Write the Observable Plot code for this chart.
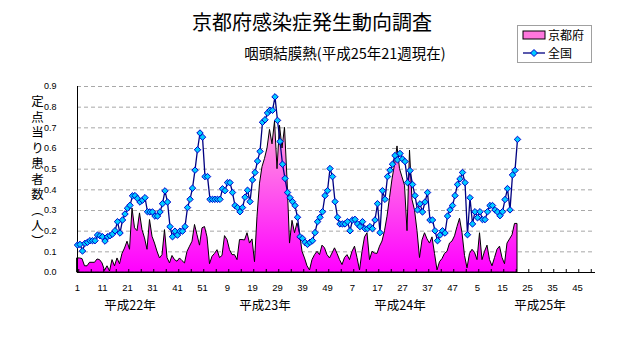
<!DOCTYPE html>
<html><head><meta charset="utf-8">
<script src="https://cdn.jsdelivr.net/npm/d3@7"></script>
<script src="https://cdn.jsdelivr.net/npm/@observablehq/plot@0.6"></script>
<style>
body{margin:0;background:#fff;}
#wrap{position:relative;width:632px;height:348px;overflow:hidden;font-family:"Noto Sans CJK JP",sans-serif;color:#000;}
#title{position:absolute;left:312px;top:10px;transform:translateX(-50%);font-size:20px;line-height:24px;white-space:nowrap;}
#subtitle{position:absolute;left:345px;top:44px;transform:translateX(-50%);font-size:14.5px;line-height:18px;white-space:nowrap;}
#ylabel{position:absolute;left:31px;top:95px;writing-mode:vertical-rl;font-size:12.5px;letter-spacing:3px;line-height:13px;}
#legend{position:absolute;left:517px;top:25px;width:73px;height:36px;border:1px solid #a0a0a0;background:#fff;}
#chart{position:absolute;left:0;top:0;}
</style></head>
<body>
<div id="wrap">
  <div id="chart"></div>
  <div id="title">京都府感染症発生動向調査</div>
  <div id="subtitle">咽頭結膜熱(平成25年21週現在)</div>
  <div id="ylabel">定点当り患者数（人）</div>
  <div id="legend">
    <svg width="73" height="36" style="font-family:'Noto Sans CJK JP',sans-serif;">
      <rect x="5" y="5" width="22" height="8" fill="#ff77dd" stroke="#000" stroke-width="1"/>
      <text x="30" y="13.5" font-size="12">京都府</text>
      <line x1="5" x2="27" y1="27" y2="27" stroke="#000080" stroke-width="1.3"/>
      <path d="M16,23.5 L19.5,27 L16,30.5 L12.5,27 Z" fill="#00ccff" stroke="#0000cc" stroke-width="1"/>
      <text x="30" y="32" font-size="12">全国</text>
    </svg>
  </div>
</div>
<script>
// 京都府 (weekly, from H22 week 1 to H25 week 21)
const kyoto2010 = [0.068,0.068,0.065,0.03,0.03,0.047,0.047,0.047,0.063,0.06,
 0.044,0.008,0.03,0.005,0.06,0.03,0.068,0.04,0.09,0.116,
 0.149,0.11,0.31,0.214,0.2,0.286,0.205,0.165,0.11,0.254,
 0.173,0.14,0.1,0.068,0.084,0.205,0.07,0.044,0.08,0.06,
 0.052,0.068,0.055,0.044,0.1,0.125,0.149,0.23,0.18,0.13,
 0.214,0.22];
const kyoto2011 = [0.17,0.04,0.076,0.09,0.108,0.07,0.08,0.176,0.157,0.108,
 0.084,0.084,0.06,0.157,0.157,0.155,0.19,0.14,0.16,0.05,
 0.27,0.43,0.51,0.55,0.6,0.69,0.62,0.73,0.5,0.71,
 0.6,0.7,0.45,0.14,0.25,0.19,0.238,0.19,0.1,0.068,
 0.03,0.01,0.06,0.084,0.1,0.084,0.13,0.117,0.084,0.068,
 0.092,0.117];
const kyoto2012 = [0.09,0.06,0.036,0.07,0.084,0.06,0.1,0.125,0.07,0.01,
 0.1,0.17,0.19,0.06,0.1,0.092,0.09,0.125,0.15,0.2,
 0.27,0.36,0.45,0.52,0.61,0.5,0.46,0.42,0.2,0.59,
 0.35,0.3,0.2,0.07,0.155,0.19,0.16,0.14,0.17,0.09,
 0.01,0.05,0.065,0.09,0.1,0.14,0.15,0.175,0.22,0.26,
 0.19,0.08];
const kyoto2013 = [0.02,0.09,0.11,0.095,0.06,0.19,0.06,0.1,0.13,0.06,
 0.03,0.07,0.11,0.125,0.07,0.04,0.14,0.16,0.18,0.235,
 0.235];

// 全国
const national2010 = [0.133,0.136,0.104,0.141,0.146,0.154,0.154,0.154,0.181,0.178,
 0.173,0.152,0.173,0.178,0.186,0.202,0.246,0.191,0.254,0.283,
 0.311,0.325,0.371,0.372,0.358,0.341,0.35,0.362,0.294,0.293,
 0.293,0.273,0.273,0.293,0.333,0.395,0.341,0.222,0.173,0.2,
 0.181,0.2,0.2,0.222,0.314,0.354,0.408,0.495,0.594,0.675,
 0.655,0.464];
const national2011 = [0.464,0.354,0.354,0.354,0.354,0.354,0.405,0.396,0.435,0.435,
 0.387,0.324,0.314,0.294,0.314,0.364,0.398,0.343,0.448,0.484,
 0.539,0.586,0.727,0.739,0.772,0.785,0.785,0.85,0.736,0.634,
 0.524,0.455,0.387,0.362,0.343,0.324,0.267,0.173,0.165,0.146,
 0.136,0.146,0.154,0.193,0.246,0.267,0.294,0.372,0.396,0.503,
 0.464,0.343];
const national2012 = [0.267,0.235,0.235,0.235,0.246,0.202,0.254,0.257,0.235,0.222,
 0.246,0.212,0.212,0.222,0.212,0.254,0.333,0.193,0.396,0.354,
 0.464,0.495,0.524,0.566,0.545,0.576,0.549,0.537,0.435,0.493,
 0.426,0.372,0.303,0.332,0.293,0.341,0.387,0.254,0.254,0.202,
 0.154,0.181,0.202,0.191,0.273,0.303,0.324,0.372,0.426,0.453,
 0.484,0.435];
const national2013 = [0.183,0.362,0.235,0.294,0.265,0.294,0.256,0.256,0.294,0.324,
 0.324,0.303,0.293,0.275,0.294,0.353,0.406,0.303,0.472,0.494,
 0.644];

const xTickLabels = ["1","11","21","31","41","51","9","19","29","39","49","7","17","27","37","47","5","15","25","35","45"];
const yearLabels = ["平成22年","平成23年","平成24年","平成25年"];
const yearLabelWeek = [21, 75, 129, 185];
const yTicks = [0,0.1,0.2,0.3,0.4,0.5,0.6,0.7,0.8,0.9];

const kyotoVals = [...kyoto2010, ...kyoto2011, ...kyoto2012, ...kyoto2013];
const nationalVals = [...national2010, ...national2011, ...national2012, ...national2013];
const kyoto = kyotoVals.map((v,i)=>({i, v}));
const national = nationalVals.map((v,i)=>({i, v}));
const labelRows = xTickLabels.map((t,k)=>({i:k*10, t}));
const yearRows = yearLabels.map((t,k)=>({i:yearLabelWeek[k], t}));
const minorTicks = d3.range(0, 206, 5).map(d=>d+0.5);
const tickLen = 0.9*3/186;

const chart = Plot.plot({
  width: 632, height: 348,
  marginLeft: 77, marginRight: 37, marginTop: 86, marginBottom: 76,
  style: {fontFamily: "'Liberation Sans', sans-serif", fontSize: "10px", background: "transparent"},
  x: {domain: [0, 207.2], axis: null},
  y: {domain: [0, 0.9], axis: null},
  marks: [
    Plot.ruleY(yTicks.slice(1), {stroke: "#a8a8a8", strokeDasharray: "4,3", strokeWidth: 1}),
    Plot.areaY(kyoto, {x: "i", y: "v", fill: "url(#kgrad)", stroke: "black", strokeWidth: 1}),
    Plot.ruleX([0], {stroke: "black"}),
    Plot.ruleY([0], {stroke: "black"}),
    Plot.ruleX(minorTicks, {y1: 0, y2: tickLen, stroke: "black"}),
    Plot.lineY(national, {x: "i", y: "v", stroke: "#000080", strokeWidth: 1.3}),
    Plot.dot(national, {x: "i", y: "v", symbol: "diamond2", r: 2.9, fill: "#00ccff", stroke: "#0000cc", strokeWidth: 1}),
    Plot.axisY({ticks: yTicks, tickFormat: d => d.toFixed(1), tickSize: 0, tickPadding: 21, fontSize: 9, label: null}),
    Plot.text(labelRows, {x: "i", y: 0, text: "t", dy: 15, fontSize: 9.5}),
    Plot.text(yearRows, {x: "i", y: 0, text: "t", dy: 33, fontSize: 12.5, fontFamily: "'Noto Sans CJK JP', sans-serif"})
  ]
});

const yScale = chart.scale("y");
const defs = d3.select(chart).insert("defs", ":first-child");
const grad = defs.append("linearGradient").attr("id", "kgrad")
  .attr("gradientUnits", "userSpaceOnUse")
  .attr("x1", 0).attr("x2", 0)
  .attr("y1", yScale.apply(0.75)).attr("y2", yScale.apply(0));
grad.append("stop").attr("offset", 0).attr("stop-color", "#ffa8dc");
grad.append("stop").attr("offset", 1).attr("stop-color", "#ff00ff");

document.getElementById("chart").appendChild(chart);
</script>
</body></html>
